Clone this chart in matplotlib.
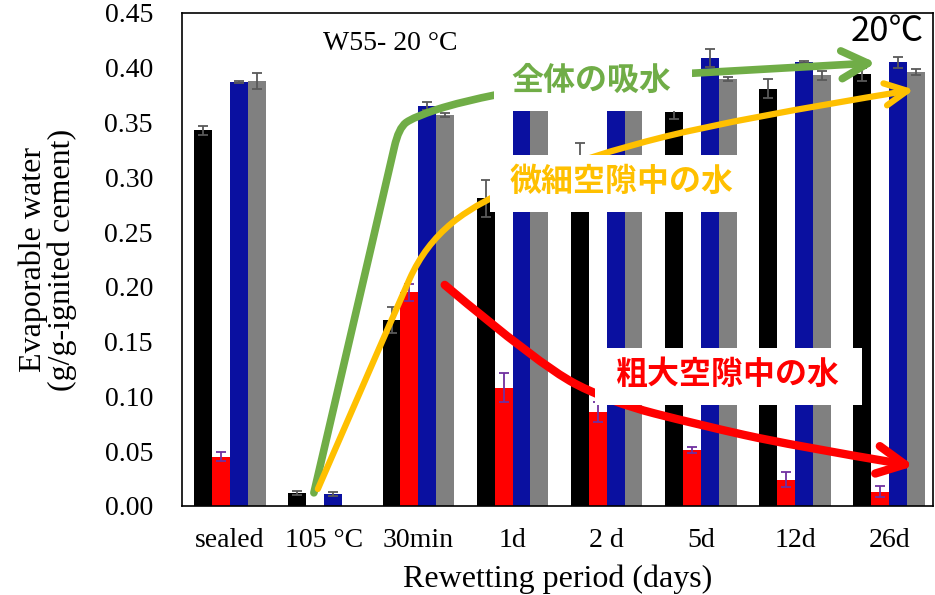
import numpy as np
import matplotlib
matplotlib.use('Agg')
import matplotlib.pyplot as plt
from matplotlib.path import Path
from matplotlib.patches import FancyArrowPatch, Rectangle

plt.rcParams['font.family'] = ['Liberation Serif', 'DejaVu Serif']

# データ
categories = ['sealed', '105 °C', '30min', '1d', '2 d', '5d', '12d', '26d']
black_vals = [0.343, 0.012, 0.170, 0.281, 0.320, 0.360, 0.381, 0.394]
black_err = [0.004, 0.002, 0.012, 0.017, 0.011, 0.007, 0.009, 0.006]
red_vals = [0.045, np.nan, 0.195, 0.108, 0.086, 0.051, 0.024, 0.013]
red_err = [0.004, np.nan, 0.008, 0.013, 0.009, 0.003, 0.007, 0.005]
blue_vals = [0.387, 0.011, 0.365, 0.392, 0.398, 0.409, 0.405, 0.405]
blue_err = [0.001, 0.002, 0.004, 0.005, 0.005, 0.008, 0.001, 0.005]
gray_vals = [0.388, np.nan, 0.357, 0.380, 0.388, 0.390, 0.393, 0.396]
gray_err = [0.007, np.nan, 0.002, 0.004, 0.004, 0.002, 0.004, 0.003]

fig = plt.figure(figsize=(9.35, 5.95), dpi=100)
ax = fig.add_axes([0.1947, 0.1496, 0.8033, 0.8286])

x = np.arange(len(categories))
w = 0.19
series = [
    (black_vals, black_err, '#000000', '#595959', -1.5),
    (red_vals, red_err, '#ff0000', '#7030a0', -0.5),
    (blue_vals, blue_err, '#0a10a0', '#595959', 0.5),
    (gray_vals, gray_err, '#808080', '#595959', 1.5),
]
for vals, err, col, ecol, k in series:
    ax.bar(x + k * w, vals, width=w, color=col, zorder=2)
    ax.errorbar(x + k * w, vals, yerr=err, fmt='none', ecolor=ecol,
                elinewidth=1.3, capsize=3.6, capthick=1.3, zorder=3)

ax.set_xlim(-0.509, 7.466)
ax.set_ylim(0, 0.45)
ax.set_yticks(np.arange(0, 0.451, 0.05))
ax.set_yticklabels(['%.2f' % v for v in np.arange(0, 0.451, 0.05)])
ax.set_xticks(x)
ax.set_xticklabels(categories)
ax.tick_params(axis='both', length=0, labelsize=20)
ax.tick_params(axis='y', pad=21)
ax.tick_params(axis='x', pad=16)
for s in ax.spines.values():
    s.set_linewidth(1.2)

ax.set_xlabel('Rewetting period (days)', fontsize=23, labelpad=8)
ax.set_ylabel('Evaporable water\n(g/g-ignited cement)', fontsize=23,
              labelpad=20, linespacing=0.95)

ax.text(1.70, 0.4218, 'W55- 20 °C', fontsize=20, ha='center', va='center')
ax.text(6.98, 0.433, '20℃', fontsize=25, ha='center', va='center',
        family=['Noto Sans CJK JP', 'DejaVu Sans'])


# 注釈の矢印（二次ベジェで滑らかに）
def smooth_path(pts):
    pts = np.asarray(pts, dtype=float)
    if len(pts) == 2:
        return Path(pts, [Path.MOVETO, Path.LINETO])
    verts = [pts[0]]
    codes = [Path.MOVETO]
    for i in range(1, len(pts) - 2):
        verts += [pts[i], (pts[i] + pts[i + 1]) / 2]
        codes += [Path.CURVE3, Path.CURVE3]
    verts += [pts[-2], pts[-1]]
    codes += [Path.CURVE3, Path.CURVE3]
    return Path(verts, codes)


green = '#70ad47'
yellow = '#ffc000'
red = '#ff0000'

green_curve = [(0.891, 0.012), (1.70, 0.31), (1.79, 0.345), (1.95, 0.355),
               (2.45, 0.369), (2.863, 0.376)]
green_arrow = [(4.91, 0.395), (6.86, 0.4045)]
yellow_curve = [(0.933, 0.0155), (1.750, 0.177), (2.068, 0.238), (2.651, 0.279),
                (3.818, 0.320), (5.408, 0.354), (7.264, 0.380)]
red_curve = [(2.280, 0.2018), (3.287, 0.1287), (4.030, 0.0950), (4.984, 0.0740),
             (5.938, 0.0557), (7.264, 0.0365)]

ax.add_patch(FancyArrowPatch(path=smooth_path(green_curve), arrowstyle='-',
                             color=green, lw=5.5, zorder=4))
ax.add_patch(FancyArrowPatch(path=smooth_path(green_arrow),
                             arrowstyle='->,head_length=0.95,head_width=0.5',
                             mutation_scale=20, color=green, lw=5.5, zorder=4))
ax.add_patch(FancyArrowPatch(path=smooth_path(yellow_curve),
                             arrowstyle='->,head_length=1.0,head_width=0.5',
                             mutation_scale=16, color=yellow, lw=4.5, zorder=4))
ax.add_patch(FancyArrowPatch(path=smooth_path(red_curve),
                             arrowstyle='->,head_length=1.0,head_width=0.5',
                             mutation_scale=20, color=red, lw=6, zorder=4))

# ラベル（白背景）
jp = ['Noto Sans CJK JP', 'DejaVu Sans']
labels = [
    ('全体の吸水', green, (2.80, 0.3606, 2.11, 0.0539), (3.839, 0.3876)),
    ('微細空隙中の水', yellow, (2.757, 0.2684, 2.704, 0.0521), (4.157, 0.2958)),
    ('粗大空隙中の水', red, (3.871, 0.0922, 2.842, 0.0521), (5.281, 0.1196)),
]
for txt, col, (bx, by, bw, bh), (tx, ty) in labels:
    ax.add_patch(Rectangle((bx, by), bw, bh, facecolor='white',
                           edgecolor='none', zorder=5))
    ax.text(tx, ty, txt, color=col, fontsize=23, fontweight='bold',
            family=jp, ha='center', va='center', zorder=6)

fig.savefig('out.png', dpi=100)
